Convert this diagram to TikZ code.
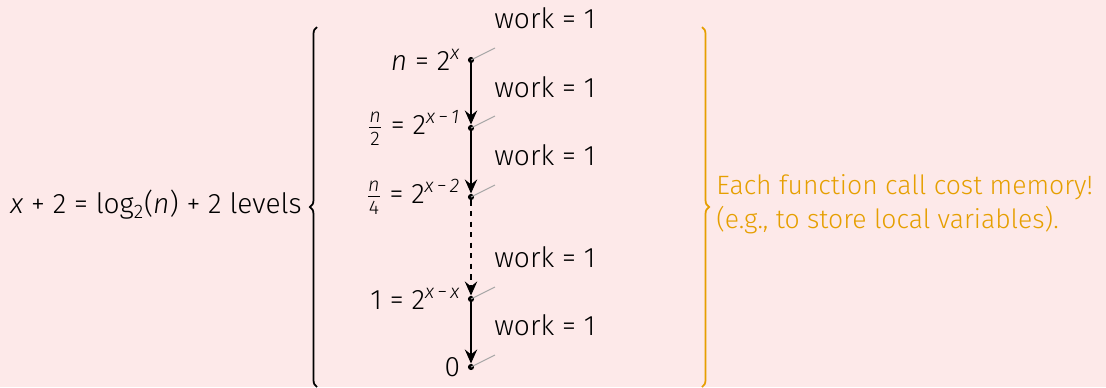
\documentclass[tikz,border=0pt]{standalone}
\usepackage{amsmath}
\usepackage{fontspec}
\setmainfont{Fira Sans}[UprightFont={* Light}, ItalicFont={* Light Italic}]
\usetikzlibrary{positioning,arrows.meta,decorations.pathreplacing}
\definecolor{slidePink}{HTML}{FDE9E9}
\definecolor{noteOrange}{HTML}{E69F00}
\tikzset{
  calldot/.style={circle, fill=black, inner sep=0pt, minimum size=3.5pt},
  worklab/.style={anchor=west, inner sep=0pt},
  sizelab/.style={inner sep=0pt},
  tick/.style={gray!70, line width=0.6pt},
  callarrow/.style={->, line width=1.2pt},
}
\newcommand{\half}[1]{\ensuremath{\frac{\text{\itshape n}}{\text{#1}}}}

\begin{document}
\begin{tikzpicture}[>={Stealth[length=8pt,width=7pt,inset=2.8pt]}, x=0.02cm, y=-0.02cm, font=\fontsize{16}{20}\selectfont]
        \fill[slidePink] (0,0) rectangle (1106,387);
        \useasboundingbox (0,0) rectangle (1106,387);
        % one dot per call
        \foreach \i/\y in {0/60, 1/128, 2/197, 3/299, 4/367} {
          \node[calldot] (d\i) at (471,\y) {};
          \coordinate (t\i) at (495,\y-12);
          \draw[tick] (d\i.center) -- (t\i);
        }
        \node[sizelab, left=4pt of d0] (l0) {\textit{n} = 2\textsuperscript{\itshape x}};
        \node[sizelab, left=4pt of d1] (l1) {\half{2} = 2\textsuperscript{\itshape x\,−\,1}};
        \node[sizelab, left=4pt of d2] (l2) {\half{4} = 2\textsuperscript{\itshape x\,−\,2}};
        \node[sizelab, left=4pt of d3] (l3) {1 = 2\textsuperscript{\itshape x\,−\,x}};
        \node[sizelab, left=4pt of d4] (l4) {0};
        \draw[callarrow] (d0) -- (d1);
        \draw[callarrow] (d1) -- (d2);
        \draw[callarrow, dashed] (d2) -- (d3);
        \draw[callarrow] (d3) -- (d4);
        \foreach \i/\y in {0/18, 1/87, 2/155, 3/257, 4/325} {
          \node[worklab] (w\i) at (494,\y) {work = 1};
        }
        % braces
        \draw[line width=1pt, decorate, decoration={brace, amplitude=4pt}] (317,387) -- (317,27);
        \node[anchor=east, inner sep=0pt] (levels) at (302,205) {\textit{x} + 2 = log\textsubscript{2}(\textit{n}) + 2 levels};
        \draw[noteOrange, line width=1pt, decorate, decoration={brace, amplitude=4pt}] (702,27) -- (702,387);
        \node[noteOrange, anchor=west, align=left, inner sep=0pt, font=\fontsize{15.1}{19.5}\selectfont] (memo) at (716,204) {Each function call cost memory!\\(e.g., to store local variables).};
      \end{tikzpicture}
\end{document}
